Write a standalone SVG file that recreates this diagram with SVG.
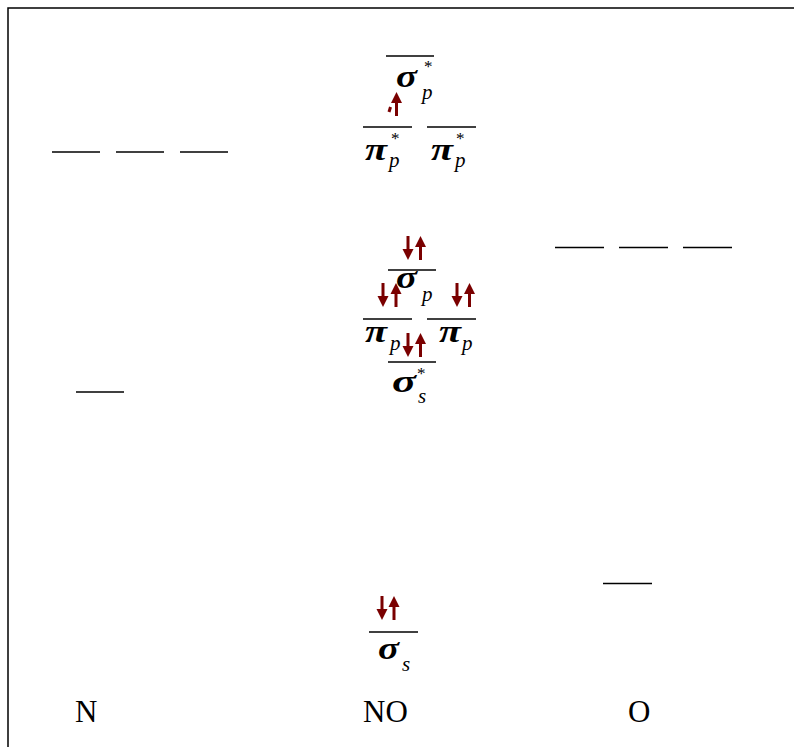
<svg xmlns="http://www.w3.org/2000/svg" width="794" height="747" viewBox="0 0 794 747">
  <style>
    .lvl { stroke: #000; stroke-width: 1.6; fill: none; }
    .frame { stroke: #000; stroke-width: 1.5; fill: none; }
    .g { font-family: "Liberation Serif", "Times New Roman", serif; font-style: italic; font-weight: bold; font-size: 32px; fill: #000; }
    .sub { font-family: "Liberation Serif", "Times New Roman", serif; font-style: italic; font-size: 21px; fill: #000; }
    .star { font-family: "Liberation Serif", "Times New Roman", serif; font-size: 17px; fill: #000; }
    .atom { font-family: "Liberation Serif", "Times New Roman", serif; font-size: 31px; fill: #000; }
    .e { stroke: #7a0000; stroke-width: 3; fill: none; }
    .eh { fill: #7a0000; }
  </style>
  <defs>
    <!-- electron spin arrows, 24px tall -->
    <g id="up">
      <line class="e" x1="0" y1="24" x2="0" y2="9"/>
      <polygon class="eh" points="-5.5,11 0,0 5.5,11"/>
    </g>
    <g id="down">
      <line class="e" x1="0" y1="0" x2="0" y2="15"/>
      <polygon class="eh" points="-5.5,13 0,24 5.5,13"/>
    </g>
  </defs>

  <!-- frame -->
  <polyline class="frame" points="8,747 8,8 794,8"/>

  <!-- N atom levels -->
  <g id="N-2p">
    <line class="lvl" x1="52" y1="152" x2="100" y2="152"/>
    <line class="lvl" x1="116" y1="152" x2="164" y2="152"/>
    <line class="lvl" x1="180" y1="152" x2="228" y2="152"/>
  </g>
  <g id="N-2s">
    <line class="lvl" x1="76" y1="392" x2="124" y2="392"/>
  </g>

  <!-- O atom levels -->
  <g id="O-2p">
    <line class="lvl" x1="555" y1="247.5" x2="604" y2="247.5"/>
    <line class="lvl" x1="619" y1="247.5" x2="668" y2="247.5"/>
    <line class="lvl" x1="683" y1="247.5" x2="732" y2="247.5"/>
  </g>
  <g id="O-2s">
    <line class="lvl" x1="603" y1="583.5" x2="652" y2="583.5"/>
  </g>

  <!-- sigma p antibonding -->
  <g id="sigma-p-star">
    <line class="lvl" x1="386" y1="56" x2="434" y2="56"/>
    <text class="g" x="396" y="87" textLength="21" lengthAdjust="spacingAndGlyphs">σ</text>
    <text class="star" x="424" y="72">*</text>
    <text class="sub" x="422" y="99">p</text>
  </g>

  <!-- pi p antibonding, one electron -->
  <g id="pi-p-star-1">
    <line class="lvl" x1="363" y1="127" x2="412" y2="127"/>
    <text class="g" x="365" y="160" textLength="22" lengthAdjust="spacingAndGlyphs">π</text>
    <text class="star" x="391" y="144">*</text>
    <text class="sub" x="389" y="167">p</text>
    <use href="#up" x="396.5" y="92"/>
    <path class="e" d="M390.5,107 L389,112" stroke-width="2.2"/>
  </g>
  <g id="pi-p-star-2">
    <line class="lvl" x1="427" y1="127" x2="476" y2="127"/>
    <text class="g" x="431" y="160" textLength="22" lengthAdjust="spacingAndGlyphs">π</text>
    <text class="star" x="456" y="144">*</text>
    <text class="sub" x="455" y="167">p</text>
  </g>

  <!-- sigma p bonding -->
  <g id="sigma-p">
    <use href="#down" x="408" y="236"/>
    <use href="#up" x="420.5" y="236"/>
    <line class="lvl" x1="388" y1="270" x2="436" y2="270"/>
    <text class="g" x="396" y="288" textLength="21" lengthAdjust="spacingAndGlyphs">σ</text>
    <text class="sub" x="422" y="301">p</text>
  </g>

  <!-- pi p bonding -->
  <g id="pi-p-1">
    <use href="#down" x="383" y="283"/>
    <use href="#up" x="396" y="283"/>
    <line class="lvl" x1="363" y1="319" x2="412" y2="319"/>
    <text class="g" x="365" y="342" textLength="22" lengthAdjust="spacingAndGlyphs">π</text>
    <text class="sub" x="390" y="350">p</text>
  </g>
  <g id="pi-p-2">
    <use href="#down" x="457" y="283"/>
    <use href="#up" x="469.5" y="283"/>
    <line class="lvl" x1="427" y1="319" x2="476" y2="319"/>
    <text class="g" x="439" y="342" textLength="22" lengthAdjust="spacingAndGlyphs">π</text>
    <text class="sub" x="462" y="350">p</text>
  </g>

  <!-- sigma s antibonding -->
  <g id="sigma-s-star">
    <use href="#down" x="408" y="333"/>
    <use href="#up" x="420.5" y="333"/>
    <line class="lvl" x1="388" y1="362" x2="436" y2="362"/>
    <text class="g" x="392" y="392" textLength="24" lengthAdjust="spacingAndGlyphs">σ</text>
    <text class="star" x="417" y="379">*</text>
    <text class="sub" x="418" y="403">s</text>
  </g>

  <!-- sigma s bonding -->
  <g id="sigma-s">
    <use href="#down" x="382" y="596"/>
    <use href="#up" x="394" y="596"/>
    <line class="lvl" x1="369" y1="632" x2="418" y2="632"/>
    <text class="g" x="378" y="659" textLength="21" lengthAdjust="spacingAndGlyphs">σ</text>
    <text class="sub" x="402" y="671">s</text>
  </g>

  <!-- atom labels -->
  <text class="atom" x="75" y="722">N</text>
  <text class="atom" x="363" y="722">NO</text>
  <text class="atom" x="628" y="722">O</text>
</svg>
